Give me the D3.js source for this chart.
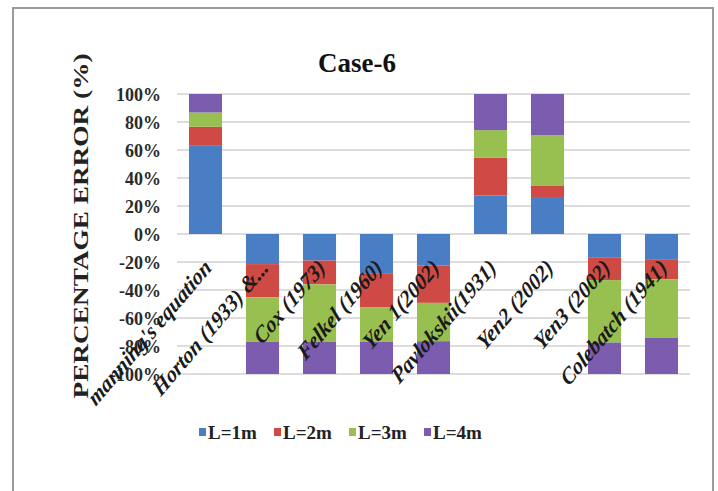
<!DOCTYPE html>
<html>
<head>
<meta charset="utf-8">
<script src="https://cdn.jsdelivr.net/npm/d3@7"></script>
<style>
  html, body { margin: 0; padding: 0; background: #fff; }
  svg { display: block; }
</style>
</head>
<body>
<script>
// Categories (methods) along the x axis
const categories = [
  "manning's equation", "Horton (1933) &...", "Cox (1973)", "Felkel (1960)",
  "Yen 1(2002)", "Pavlokskii(1931)", "Yen2 (2002)", "Yen3 (2002)", "Colebatch (1941)"
];

// Series names and colours
const seriesNames = ["L=1m", "L=2m", "L=3m", "L=4m"];
const seriesColors = ["#4a7ec4", "#cf4a45", "#98c050", "#7b5cae"];

// Share of each length in the stacked percentage error (signed)
const l1 = [63.0, -21.5, -19.0, -28.0, -22.6, 27.6, 26.4, -16.6, -18.0];
const l2 = [13.6, -23.8, -17.0, -24.5, -26.6, 27.0,  8.3, -16.3, -14.5];
const l3 = [10.2, -31.7, -41.0, -24.5, -27.4, 19.6, 36.0, -44.7, -41.7];
const l4 = [13.2, -23.0, -23.0, -23.0, -23.4, 25.8, 29.3, -22.4, -25.8];

// Y axis ticks
const yTicks = [-100, -80, -60, -40, -20, 0, 20, 40, 60, 80, 100];

const W = 718, H = 491;
const serif = "'Liberation Serif', 'Times New Roman', Times, serif";

const svg = d3.select("body").append("svg")
  .attr("width", W).attr("height", H);

// outer chart frame (bottom edge runs past the page)
svg.append("rect")
  .attr("x", 13).attr("y", 8).attr("width", 700).attr("height", 520)
  .attr("fill", "#fff").attr("stroke", "#9c9c9c").attr("stroke-width", 2);

const x = d3.scaleBand()
  .domain(categories)
  .range([177, 690])
  .paddingInner(0.42)
  .paddingOuter(0.21);

const y = d3.scaleLinear()
  .domain([-100, 100])
  .range([374, 94]);

// gridlines
svg.append("g")
  .selectAll("line")
  .data(yTicks)
  .join("line")
  .attr("x1", 177).attr("x2", 690)
  .attr("y1", d => y(d)).attr("y2", d => y(d))
  .attr("stroke", "#d2d2d2").attr("stroke-width", 1.5);

// y axis tick labels
const yAxis = d3.axisLeft(y)
  .tickValues(yTicks)
  .tickFormat(d => d + "%")
  .tickSize(0)
  .tickPadding(0);
const yg = svg.append("g")
  .attr("transform", "translate(161,0)")
  .call(yAxis);
yg.select(".domain").remove();
yg.selectAll("text")
  .attr("font-family", serif)
  .attr("font-size", 18)
  .attr("font-weight", "bold")
  .attr("fill", "#2a2a2a")
  .attr("dy", "0.34em");

// stacked bars
const rows = categories.map((c, i) => ({
  cat: c, "L=1m": l1[i], "L=2m": l2[i], "L=3m": l3[i], "L=4m": l4[i]
}));
const stacked = d3.stack()
  .keys(seriesNames)
  .offset(d3.stackOffsetDiverging)(rows);

svg.append("g")
  .selectAll("g")
  .data(stacked)
  .join("g")
  .attr("fill", (d, i) => seriesColors[i])
  .selectAll("rect")
  .data(d => d)
  .join("rect")
  .attr("x", d => x(d.data.cat))
  .attr("width", x.bandwidth())
  .attr("y", d => y(Math.max(d[0], d[1])))
  .attr("height", d => Math.abs(y(d[0]) - y(d[1])));

// category labels, slanted
svg.append("g")
  .selectAll("text")
  .data(categories)
  .join("text")
  .attr("transform", d =>
    `translate(${x(d) + x.bandwidth() / 2 + 7},${y(0) + 35}) scale(1,1.18) rotate(-45)`)
  .attr("text-anchor", "end")
  .attr("font-family", serif)
  .attr("font-size", 20)
  .attr("font-weight", "bold")
  .attr("font-style", "italic")
  .attr("fill", "#1a1a1a")
  .text(d => d);

// chart title
svg.append("text")
  .attr("x", 357).attr("y", 72)
  .attr("text-anchor", "middle")
  .attr("font-family", serif)
  .attr("font-size", 27)
  .attr("font-weight", "bold")
  .attr("fill", "#111")
  .text("Case-6");

// y axis title
svg.append("text")
  .attr("transform", "translate(88,226) rotate(-90)")
  .attr("text-anchor", "middle")
  .attr("font-family", serif)
  .attr("font-size", 21)
  .attr("font-weight", "bold")
  .attr("fill", "#222")
  .attr("textLength", 345)
  .attr("lengthAdjust", "spacingAndGlyphs")
  .text("PERCENTAGE ERROR (%)");

// legend
const legend = svg.append("g")
  .selectAll("g")
  .data(seriesNames)
  .join("g")
  .attr("transform", (d, i) => `translate(${199 + i * 75},432)`);
legend.append("rect")
  .attr("x", 0).attr("y", -4).attr("width", 7).attr("height", 8)
  .attr("fill", (d, i) => seriesColors[i]);
legend.append("text")
  .attr("x", 9).attr("y", 7)
  .attr("font-family", serif)
  .attr("font-size", 19)
  .attr("font-weight", "bold")
  .attr("fill", "#222")
  .text(d => d);
</script>
</body>
</html>
